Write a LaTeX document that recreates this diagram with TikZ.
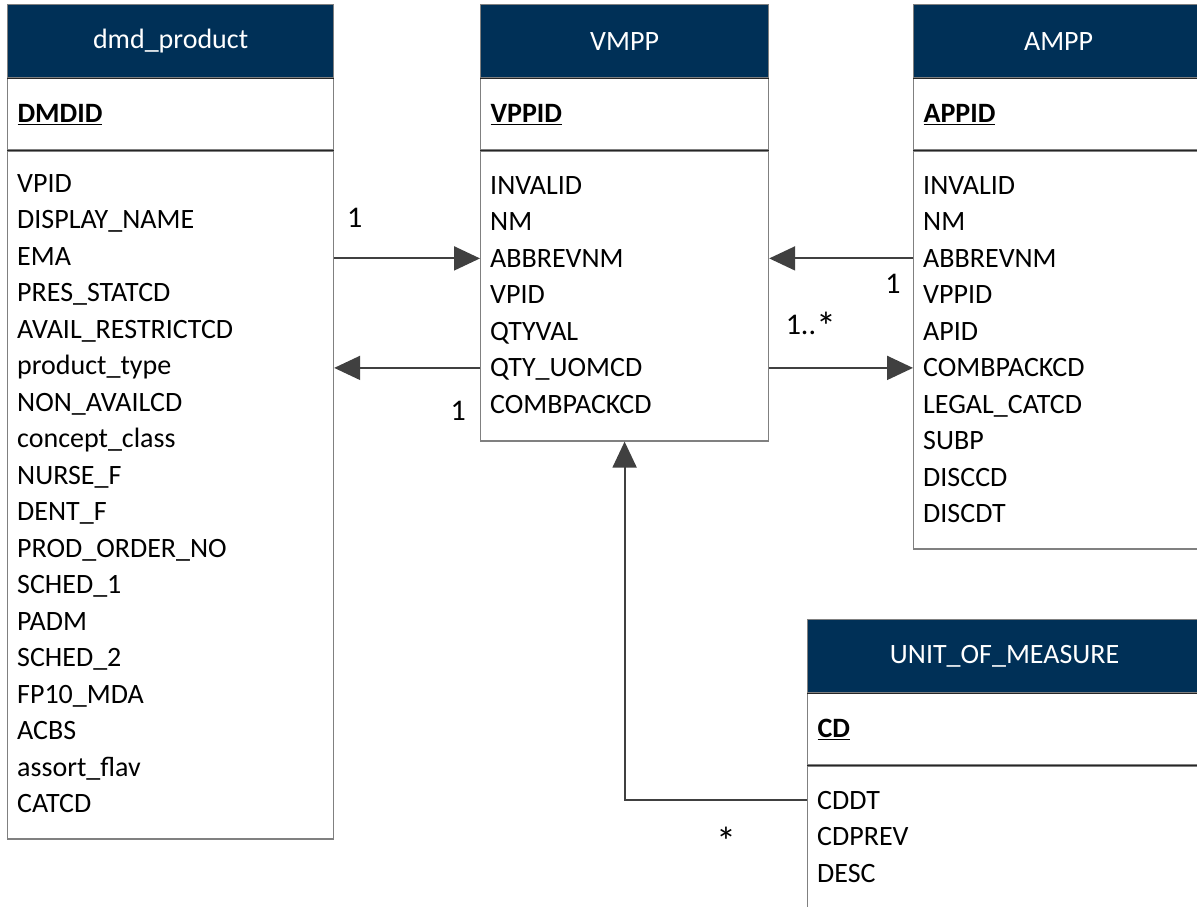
\documentclass[tikz,border=0pt]{standalone}
\usepackage{fontspec}
\setmainfont{Carlito}
\usepackage{tikz}
\usetikzlibrary{arrows.meta,positioning}

\definecolor{headblue}{RGB}{0,48,87}
\definecolor{boxgray}{RGB}{128,128,128}
\definecolor{linkgray}{RGB}{64,64,64}

\newcommand{\bigstar}{{\fontsize{40}{40}\selectfont\raisebox{-6pt}{*}}}

\begin{document}
\begin{tikzpicture}[x=1pt,y=-1pt,font=\fontsize{28}{36}\selectfont,
		head/.style={rectangle,draw=boxgray,fill=headblue,text=white,line width=1.2pt,
			minimum width=#1,minimum height=73pt,inner sep=0pt,anchor=north west},
		key/.style={rectangle,draw=boxgray,line width=1.2pt,minimum height=71pt,
			text width=#1-20pt,align=left,inner xsep=10pt,inner ysep=0pt,font=\fontsize{28}{36}\selectfont\bfseries},
		tbody/.style={rectangle,draw=boxgray,line width=1.2pt,minimum width=#1,inner sep=0pt},
		field/.style={anchor=west,inner xsep=10pt,inner ysep=0pt,text height=18pt,text depth=0pt},
		card/.style={inner sep=2pt,text height=18pt,text depth=0pt,font=\fontsize{30}{36}\selectfont},
		divider/.style={draw=black!85,line width=1.4pt},
		link/.style={draw=linkgray,line width=2pt,-{Triangle[length=26pt,width=24pt]}}]
		
		\useasboundingbox (0,0) rectangle (1197,906);
		\clip (0,0) rectangle (1197,906);
		
		% dmd_product
		\node[head=326pt] (dmd-head) at (7,4) {dmd\_product};
		\node[key=326pt,below=0pt of dmd-head] (dmd-key) {\underline{DMDID}};
		\node[tbody=326pt,minimum height=688pt,below=0pt of dmd-key] (dmd-body) {};
		\foreach \f [count=\i] in {VPID,DISPLAY\_NAME,EMA,PRES\_STATCD,AVAIL\_RESTRICTCD,product\_type,
			NON\_AVAILCD,concept\_class,NURSE\_F,DENT\_F,PROD\_ORDER\_NO,SCHED\_1,PADM,SCHED\_2,
			FP10\_MDA,ACBS,assort\_flav,CATCD}
		\node[field] (dmd-\i) at ([yshift={-33-(\i-1)*36.5}]dmd-body.north west) {\f};
		
		% VMPP
		\node[head=288pt] (vmpp-head) at (480,4) {VMPP};
		\node[key=288pt,below=0pt of vmpp-head] (vmpp-key) {\underline{VPPID}};
		\node[tbody=288pt,minimum height=290pt,below=0pt of vmpp-key] (vmpp-body) {};
		\foreach \f [count=\i] in {INVALID,NM,ABBREVNM,VPID,QTYVAL,QTY\_UOMCD,COMBPACKCD}
		\node[field] (vmpp-\i) at ([yshift={-35-(\i-1)*36.5}]vmpp-body.north west) {\f};
		
		% AMPP
		\node[head=290pt] (ampp-head) at (913,4) {AMPP};
		\node[key=290pt,below=0pt of ampp-head] (ampp-key) {\underline{APPID}};
		\node[tbody=290pt,minimum height=398pt,below=0pt of ampp-key] (ampp-body) {};
		\foreach \f [count=\i] in {INVALID,NM,ABBREVNM,VPPID,APID,COMBPACKCD,LEGAL\_CATCD,SUBP,DISCCD,DISCDT}
		\node[field] (ampp-\i) at ([yshift={-35-(\i-1)*36.5}]ampp-body.north west) {\f};
		
		% UNIT_OF_MEASURE
		\node[head=394pt] (uom-head) at (807,619) {UNIT\_OF\_MEASURE};
		\node[key=394pt,below=0pt of uom-head] (uom-key) {\underline{CD}};
		\node[tbody=394pt,minimum height=200pt,below=0pt of uom-key] (uom-body) {};
		\foreach \f [count=\i] in {CDDT,CDPREV,DESC}
		\node[field] (uom-\i) at ([yshift={-35-(\i-1)*36.5}]uom-body.north west) {\f};
		
		\foreach \t in {dmd,vmpp,ampp,uom}
		\draw[divider] (\t-key.north west) -- (\t-key.north east)
		(\t-key.south west) -- (\t-key.south east);
		
		\draw[link] (dmd-body.east |- vmpp-3) -- (vmpp-3.west) node[card,pos=0.14,above=28pt] {1};
		\draw[link] (vmpp-6.west) -- (dmd-body.east |- vmpp-6) node[card,pos=0.15,below=32pt] {1};
		\draw[link] (ampp-3.west) -- (vmpp-body.east |- ampp-3) node[card,pos=0.14,below=14pt] {1};
		\draw[link] (vmpp-body.east |- vmpp-6) -- (ampp-body.west |- vmpp-6) node[card,pos=0.29,above=30pt] {1..\bigstar};
		\draw[link] (uom-1.west) -| (vmpp-body.south) node[card,pos=0.22,below=28pt] {\bigstar};
	\end{tikzpicture}
\end{document}
